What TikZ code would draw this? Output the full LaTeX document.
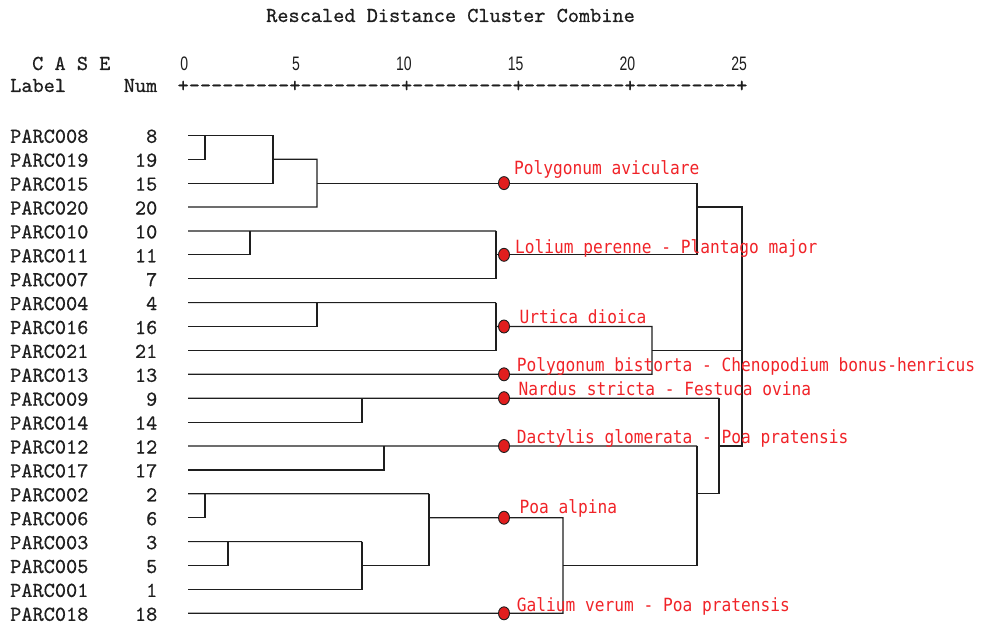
\documentclass[tikz,border=0pt]{standalone}
\usepackage{fontspec}
\usetikzlibrary{shapes.geometric}
\newfontfamily\casefont[Ligatures=TeXOff,FakeBold=0.6]{lmmono10-regular.otf}
\newfontfamily\tagfont[FakeStretch=0.89]{DejaVu Sans Mono}
\newfontfamily\tickfont[FakeStretch=0.72]{Liberation Sans}
\definecolor{inkgray}{RGB}{30,30,30}
\definecolor{tagred}{RGB}{240,35,40}
\definecolor{spotred}{RGB}{225,30,30}
\tikzset{
  tree/.style={line width=1.2pt, draw=inkgray},
  casetxt/.style={font={\casefont\fontsize{21.28}{24}\selectfont}, text=inkgray, inner sep=0pt},
  ticktxt/.style={font={\tickfont\fontsize{19.5}{22}\selectfont}, text=inkgray, inner sep=0pt},
  tag/.style={font={\tagfont\fontsize{18.2}{20}\selectfont}, text=tagred, inner sep=0pt, anchor=base west},
  spot/.style={ellipse, fill=spotred, draw=inkgray, line width=0.9pt, minimum width=11pt, minimum height=13pt, inner sep=0pt}
}

\begin{document}
\begin{tikzpicture}[x=1pt,y=-1pt]
\useasboundingbox (0,0) rectangle (982,623);

% header
\node[casetxt, anchor=base west] (title) at (266,22) {Rescaled Distance Cluster Combine};
\node[casetxt, anchor=base west] (case) at (32,70) {C A S E};
\node[casetxt, anchor=base west] (label) at (10,92) {Label};
\node[casetxt, anchor=base east] (numhead) at (157.5,92) {Num};
\node[casetxt, anchor=base west] (axis) at (177.4,92) {+---------+---------+---------+---------+---------+};
\foreach \v in {0,5,...,25}
  \node[ticktxt, anchor=base east] (t\v) at (183+22.35*\v+5.5,70.5) {\v};

% cases
\foreach \num [count=\i from 0] in {8,19,15,20,10,11,7,4,16,21,13,9,14,12,17,2,6,3,5,1,18}{
  \pgfmathsetmacro{\yy}{135.3+23.9*\i}
  \node[casetxt, anchor=base west] (lab\num) at (10,\yy+7.5) {PARC0\ifnum\num<10 0\fi\num};
  \node[casetxt, anchor=base east] (num\num) at (157.5,\yy+7.5) {\num};
  \coordinate (c\num) at (188,\yy);
}

% Polygonum aviculare
\draw[tree] (c8) -- (273,135.3);
\draw[tree] (c19) -| (205,135.3);
\draw[tree] (c15) -| (273,135.3);
\draw[tree] (273,159.2) -| (317,207.0) -- (c20);
\draw[tree] (317,183.1) -- (697,183.1);
% Lolium
\draw[tree] (c10) -- (496,230.9);
\draw[tree] (c11) -| (250,230.9);
\draw[tree] (c7) -| (496,230.9);
\draw[tree] (496,254.8) -| (697,183.1);
% Urtica
\draw[tree] (c4) -- (496,302.6);
\draw[tree] (c16) -| (317,302.6);
\draw[tree] (c21) -| (496,302.6);
\draw[tree] (496,326.5) -| (652,374.3) -- (c13);
% Nardus
\draw[tree] (c9) -- (719,398.2);
\draw[tree] (c14) -| (362,398.2);
% Dactylis
\draw[tree] (c12) -- (697,446.0);
\draw[tree] (c17) -| (384,446.0);
% Poa alpina
\draw[tree] (c2) -- (429,493.8);
\draw[tree] (c6) -| (205,493.8);
\draw[tree] (c3) -- (362,541.6);
\draw[tree] (c5) -| (228,541.6);
\draw[tree] (c1) -| (362,541.6);
\draw[tree] (362,565.5) -| (429,493.8);
\draw[tree] (429,517.7) -| (563,613.3) -- (c18);
% upper joins
\draw[tree] (563,565.5) -| (697,446.0);
\draw[tree] (697,493.8) -| (719,398.2);
\draw[tree] (697,207.0) -| (742,446.0) -- (719,446.0);
\draw[tree] (652,350.4) -- (742,350.4);

% marks
\foreach \y [count=\k] in {183.1,254.8,326.5,374.3,398.2,446.0,517.7,613.3}
  \node[spot] (s\k) at (504,\y) {};

\node[tag] (g1) at (514,174.3) {Polygonum aviculare};
\node[tag] (g2) at (515,253.3) {Lolium perenne - Plantago major};
\node[tag] (g3) at (519.3,323.3) {Urtica dioica};
\node[tag] (g4) at (516.7,371.7) {Polygonum bistorta - Chenopodium bonus-henricus};
\node[tag] (g5) at (518.3,395) {Nardus stricta - Festuca ovina};
\node[tag] (g6) at (516.7,443.3) {Dactylis glomerata - Poa pratensis};
\node[tag] (g7) at (519.3,513.3) {Poa alpina};
\node[tag] (g8) at (516.7,611.7) {Galium verum - Poa pratensis};
\end{tikzpicture}
\end{document}
